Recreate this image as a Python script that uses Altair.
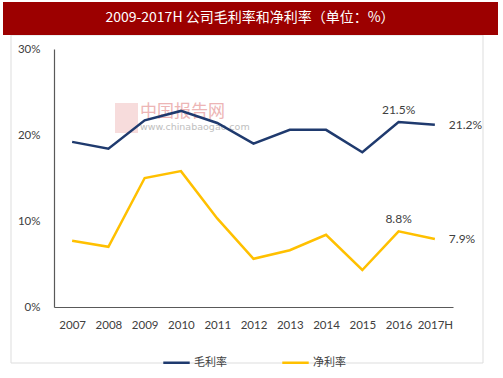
import altair as alt
import pandas as pd

years = ["2007", "2008", "2009", "2010", "2011", "2012", "2013", "2014", "2015", "2016", "2017H"]
gross_margin = [19.2, 18.4, 21.7, 22.8, 21.4, 19.0, 20.6, 20.6, 18.0, 21.5, 21.2]
net_margin = [7.7, 7.0, 15.0, 15.8, 10.3, 5.6, 6.6, 8.4, 4.3, 8.8, 7.9]
series_names = ["毛利率", "净利率"]
series_colors = ["#1F3A6E", "#FFC000"]
y_ticks = [0, 10, 20, 30]
title_text = "2009-2017H 公司毛利率和净利率（单位：%）"

rows = []
for name, vals in zip(series_names, [gross_margin, net_margin]):
    for y, v in zip(years, vals):
        rows.append({"year": y, "series": name, "value": v, "label": f"{v:.1f}%"})
df = pd.DataFrame(rows)

FONT = "Lato"

x_enc = alt.X("year:N", sort=years,
              scale=alt.Scale(type="point", padding=0.5),
              axis=alt.Axis(title=None, labelAngle=0, ticks=False, domainColor="#595959",
                            domainWidth=1.2, labelFontSize=11.5, labelPadding=12,
                            labelColor="#404040", labelFont=FONT))
y_enc = alt.Y("value:Q", scale=alt.Scale(domain=[0, 30]),
              axis=alt.Axis(title=None, values=y_ticks, ticks=False, domainColor="#595959",
                            domainWidth=1.2, labelExpr="datum.value + '%'",
                            labelFontSize=11.5, labelPadding=14, labelColor="#404040",
                            labelFont=FONT))
color_enc = alt.Color("series:N", sort=series_names,
                      scale=alt.Scale(domain=series_names, range=series_colors),
                      legend=alt.Legend(title=None, orient="none", direction="horizontal",
                                        legendX=108, legendY=299, symbolType="stroke",
                                        symbolSize=700, symbolStrokeWidth=2.5,
                                        labelFont="Noto Sans CJK SC", labelFontSize=11,
                                        labelColor="#404040", columnPadding=50,
                                        labelOffset=3))

base = alt.Chart(df).encode(x=x_enc, y=y_enc, color=color_enc)
lines = base.mark_line(strokeWidth=2.5)

lab2016 = alt.Chart(df).transform_filter(alt.datum.year == "2016").mark_text(
    dy=-12, fontSize=12, font=FONT, color="#404040").encode(
    x=alt.X("year:N", sort=years), y="value:Q", text="label:N")
lab2017 = alt.Chart(df).transform_filter(alt.datum.year == "2017H").mark_text(
    dx=14, align="left", fontSize=12, font=FONT, color="#404040").encode(
    x=alt.X("year:N", sort=years), y="value:Q", text="label:N")

one = pd.DataFrame({"t": [title_text]})
border = alt.Chart(one).mark_rect(filled=False, stroke="#DDDDDD", strokeWidth=1).encode(
    x=alt.value(-43), x2=alt.value(429), y=alt.value(-14), y2=alt.value(314))
title_bar = alt.Chart(one).mark_rect(color="#9C0000").encode(
    x=alt.value(-51), x2=alt.value(444), y=alt.value(-47), y2=alt.value(-14))
title_txt = alt.Chart(one).mark_text(color="white", fontSize=14, font="Noto Sans CJK SC",
                                     align="center", baseline="middle").encode(
    x=alt.value(196), y=alt.value(-31), text="t:N")

wm = pd.DataFrame({"t": ["中国报告网"], "u": ["www.chinabaogao.com"]})
wm_box = alt.Chart(wm).mark_rect(color="#F2C4C4", opacity=0.6).encode(
    x=alt.value(61), x2=alt.value(84), y=alt.value(54), y2=alt.value(84))
wm_t1 = alt.Chart(wm).mark_text(color="#E9A3A3", fontSize=17, font="Noto Sans CJK SC",
                                align="left", baseline="middle", opacity=0.8).encode(
    x=alt.value(86), y=alt.value(63), text="t:N")
wm_t2 = alt.Chart(wm).mark_text(color="#B0B0B0", fontSize=9.5, font="DejaVu Sans",
                                align="left", baseline="middle", opacity=0.8).encode(
    x=alt.value(86), y=alt.value(78), text="u:N")

chart = alt.layer(border, title_bar, title_txt, wm_box, wm_t1, wm_t2, lines, lab2016, lab2017).properties(
    width=399, height=258,
    autosize=alt.AutoSizeParams(type="none"),
    padding={"left": 54, "top": 49, "right": 50, "bottom": 71},
    background="white",
).configure_view(stroke=None).configure_axis(grid=False)

chart.save("out.html", embed_options={"renderer": "svg", "actions": False})
